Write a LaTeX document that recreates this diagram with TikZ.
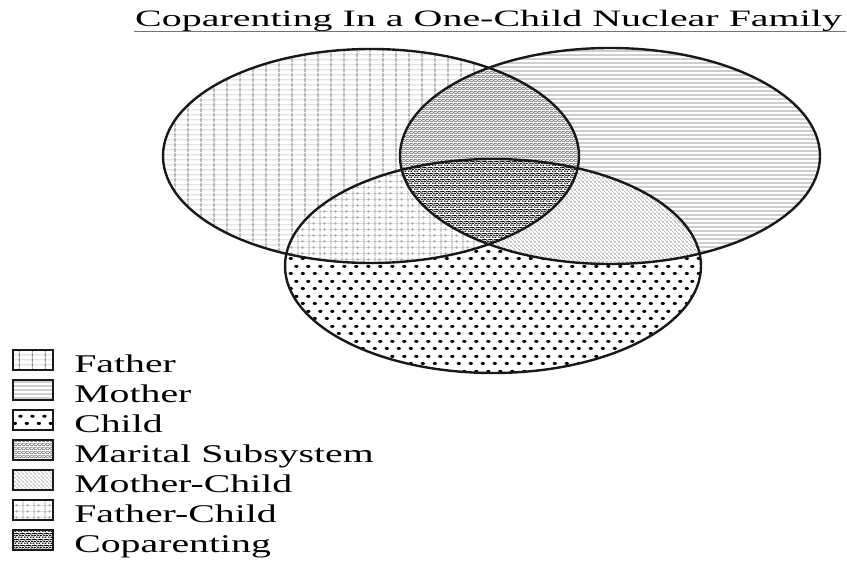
\documentclass[tikz,border=0pt]{standalone}
\usepackage{fontspec}
\setmainfont{Liberation Serif}
\newfontfamily\titleserif[FakeStretch=1.70]{Liberation Serif}
\newfontfamily\legendserif[FakeStretch=1.56]{Liberation Serif}
\usetikzlibrary{positioning,patterns.meta}

% fill patterns for the regions
\tikzdeclarepattern{
  name=fatherpat, type=colored,
  bottom left={(0pt,0pt)}, top right={(13pt,5pt)},
  tile size={(13pt,5pt)},
  code={
    \draw[black!30, line width=.5pt] (0pt,2.5pt) -- (13pt,2.5pt);
    \draw[black!65, line width=.8pt] (6.5pt,0pt) -- (6.5pt,5pt);
  }
}
\tikzdeclarepattern{
  name=motherpat, type=colored,
  bottom left={(0pt,0pt)}, top right={(4pt,4.2pt)},
  tile size={(4pt,4.2pt)},
  code={
    \draw[black!55, line width=.9pt] (0pt,1.2pt) -- (4pt,1.2pt);
  }
}
\tikzdeclarepattern{
  name=childpat, type=colored,
  bottom left={(0pt,0pt)}, top right={(12pt,15pt)},
  tile size={(12pt,15pt)},
  code={
    \fill[black] (3pt,3.75pt) ellipse [x radius=2.3pt, y radius=1.6pt];
    \fill[black] (9pt,11.25pt) ellipse [x radius=2.3pt, y radius=1.6pt];
  }
}
\tikzdeclarepattern{
  name=maritalpat, type=colored,
  bottom left={(0pt,0pt)}, top right={(4pt,4pt)},
  tile size={(4pt,4pt)},
  code={
    \draw[black!55, line width=.5pt] (0pt,0pt) -- (4pt,4pt) (0pt,4pt) -- (4pt,0pt);
  }
}
\tikzdeclarepattern{
  name=motherchildpat, type=colored,
  bottom left={(0pt,0pt)}, top right={(4pt,4pt)},
  tile size={(4pt,4pt)},
  code={
    \draw[black!40, line width=.4pt] (-1pt,1pt) -- (1pt,-1pt) (0pt,4pt) -- (4pt,0pt) (3pt,5pt) -- (5pt,3pt);
  }
}
\tikzdeclarepattern{
  name=fatherchildpat, type=colored,
  bottom left={(0pt,0pt)}, top right={(11pt,6pt)},
  tile size={(11pt,6pt)},
  code={
    \draw[black!20, line width=.4pt] (0pt,3pt) -- (11pt,3pt);
    \draw[black!45, line width=.8pt] (1pt,0pt) -- (1pt,6pt);
    \fill[black!30] (6pt,3pt) circle (1.6pt);
  }
}
\tikzdeclarepattern{
  name=coparentpat, type=colored,
  bottom left={(0pt,0pt)}, top right={(6pt,6pt)},
  tile size={(6pt,6pt)},
  code={
    \foreach \px/\py in {1.0/1.0, 3.8/0.9, 2.3/2.9, 5.0/2.7, 0.9/4.6, 3.4/5.0, 5.1/5.1}
      \fill[black] (\px pt,\py pt) ellipse [x radius=1.15pt, y radius=.85pt];
  }
}

\begin{document}
\begin{tikzpicture}[x=1pt, y=-1pt,
  outline/.style={draw=black!90, line width=2.4pt},
  legbox/.style={draw=black!90, line width=2.2pt, minimum width=40pt, minimum height=20pt, inner sep=0pt},
  legtext/.style={font=\fontsize{25.5}{28}\legendserif, anchor=base west, inner sep=0pt, text=black}
]
\useasboundingbox (0,0) rectangle (847,562);
\def\fatherring{(371,156) ellipse [x radius=208, y radius=107]}
\def\motherring{(610,156) ellipse [x radius=210, y radius=108]}
\def\childring{(493,266) ellipse [x radius=208, y radius=107]}

% title
\node[font=\fontsize{23.5}{26}\titleserif, anchor=base west, inner sep=0pt, text=black] (title) at (135,27) {Coparenting In a One-Child Nuclear Family};
\draw[black!55, line width=1.2pt] (134,31.5) -- (846,31.5);

% regions
\fill[pattern=fatherpat] \fatherring;
\fill[pattern=motherpat] \motherring;
\begin{scope}
  \clip \fatherring;
  \fill[white] \motherring;
  \fill[pattern=maritalpat] \motherring;
\end{scope}
\fill[white] \childring;
\fill[pattern=childpat] \childring;
\begin{scope}
  \clip \childring;
  \fill[white] \fatherring;
  \fill[pattern=fatherchildpat] \fatherring;
  \fill[white] \motherring;
  \fill[pattern=motherchildpat] \motherring;
  \clip \fatherring;
  \fill[white] \motherring;
  \fill[pattern=coparentpat] \motherring;
\end{scope}
\draw[outline] \fatherring;
\draw[outline] \motherring;
\draw[outline] \childring;

% legend
\foreach \i/\pat/\lab in {0/fatherpat/Father, 1/motherpat/Mother, 2/childpat/Child,
    3/maritalpat/Marital Subsystem, 4/motherchildpat/Mother-Child,
    5/fatherchildpat/Father-Child, 6/coparentpat/Coparenting} {
  \node[legbox, pattern=\pat] (key\i) at (33, 360+30*\i) {};
  \node[legtext] (lab\i) at ([xshift=20pt, yshift=-12pt]key\i.east) {\lab};
}
\end{tikzpicture}
\end{document}
